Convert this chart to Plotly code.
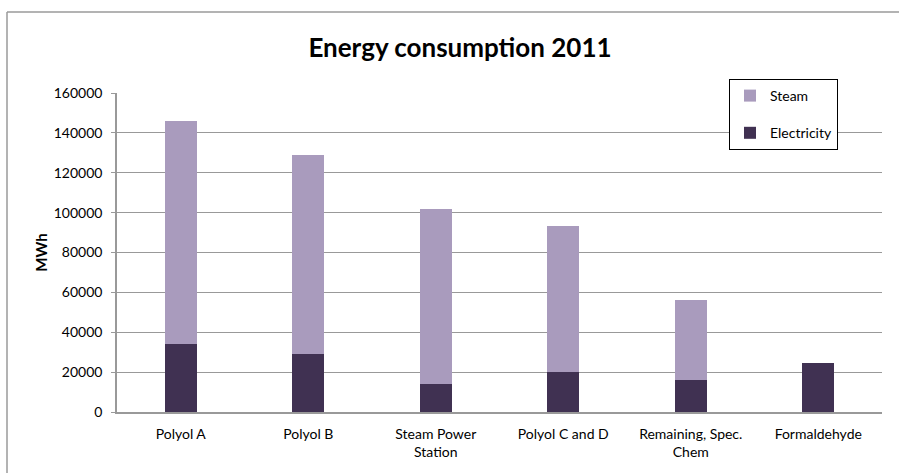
import plotly.graph_objects as go

categories = ["Polyol A", "Polyol B", "Steam Power<br>Station", "Polyol C and D",
              "Remaining, Spec.<br>Chem", "Formaldehyde"]
electricity = [34300, 29000, 14000, 20300, 16300, 24800]
steam = [111700, 100000, 88000, 73100, 39700, 0]
y_ticks = [0, 20000, 40000, 60000, 80000, 100000, 120000, 140000, 160000]

FONT = "Lato, 'Open Sans', sans-serif"

fig = go.Figure()
fig.add_trace(go.Bar(x=categories, y=electricity, name="Electricity",
                     marker=dict(color="#403152", line=dict(width=0)),
                     legendgroup="e", legendrank=2))
fig.add_trace(go.Bar(x=categories, y=steam, name="Steam",
                     marker=dict(color="#A99BBD", line=dict(width=0)),
                     legendgroup="s", legendrank=1))

W, H = 899, 473
L, R, T, B = 117, 17, 93, 61
pw, ph = W - L - R, H - T - B

def px_x(p):
    return (p - L) / pw

def px_y(p):
    return 1 + (T - p) / ph

fig.update_layout(
    width=W, height=H,
    margin=dict(l=L, r=R, t=T, b=B, pad=0),
    barmode="stack", bargap=0.75,
    paper_bgcolor="white", plot_bgcolor="white",
    font=dict(family=FONT, size=14, color="black"),
    title=dict(text="<b>Energy consumption 2011</b>", x=460 / W, xanchor="center",
               y=1 - 48 / H, yanchor="middle", yref="container",
               font=dict(family=FONT, size=26, color="black")),
    legend=dict(x=px_x(729), y=px_y(79), xanchor="left", yanchor="top",
                bgcolor="white", bordercolor="black", borderwidth=1,
                traceorder="grouped", tracegroupgap=16,
                font=dict(family=FONT, size=14, color="black"),
                itemwidth=30),
    xaxis=dict(showgrid=False, showline=True, linecolor="#999999", linewidth=1.5,
               ticks="", tickfont=dict(size=14), ticklabelstandoff=8, fixedrange=True),
    yaxis=dict(range=[0, 160000], tickvals=y_ticks, ticktext=[str(v) for v in y_ticks],
               showgrid=True, gridcolor="#999999", gridwidth=1,
               showline=True, linecolor="#999999", linewidth=1.5,
               ticks="outside", ticklen=4, tickcolor="#999999",
               zeroline=False, ticklabelstandoff=6,
               title=dict(text="<b>MWh</b>", font=dict(size=15), standoff=2),
               tickfont=dict(size=14)),
    shapes=[
        dict(type="line", xref="paper", yref="paper",
             x0=px_x(7), x1=px_x(7), y0=px_y(480), y1=px_y(12),
             line=dict(color="#9a9a9a", width=1.5)),
        dict(type="line", xref="paper", yref="paper",
             x0=px_x(7), x1=px_x(905), y0=px_y(12), y1=px_y(12),
             line=dict(color="#9a9a9a", width=1.5)),
    ],
)

fig.write_html("out.html")
